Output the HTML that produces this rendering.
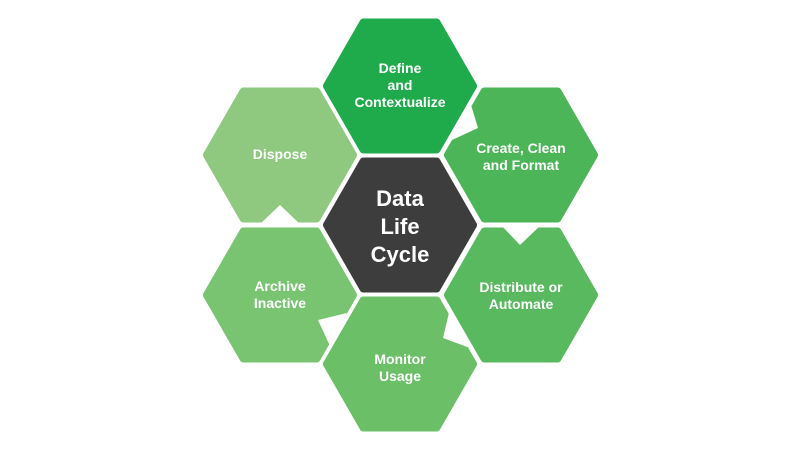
<!DOCTYPE html>
<html><head><style>
body{margin:0;background:#fff;}
svg{display:block}
text{font-family:"Liberation Sans",sans-serif;font-weight:bold;fill:#fff;text-anchor:middle}
</style></head><body>
<svg width="800" height="450" viewBox="0 0 800 450">
<defs>
<polygon id="h" points="-73,0 -36.5,-63.5 36.5,-63.5 73,0 36.5,63.5 -36.5,63.5" stroke-width="8" stroke-linejoin="round"/>
</defs>
<use href="#h" x="280" y="155" fill="#8ec97f" stroke="#8ec97f"/>
<polygon points="258,226 280,205 302,226" fill="#fff"/>
<use href="#h" x="280" y="295" fill="#79c471" stroke="#79c471"/>
<polygon points="318,320 347,313 330,346" fill="#fff"/>
<use href="#h" x="400" y="364" fill="#6bbf67" stroke="#6bbf67"/>
<polygon points="452,300 443,338 470,348" fill="#fff"/>
<use href="#h" x="521" y="295" fill="#58b95f" stroke="#58b95f"/>
<polygon points="500,224 520,245 542,224" fill="#fff"/>
<use href="#h" x="521" y="155" fill="#4bb558" stroke="#4bb558"/>
<polygon points="468,95 478,128 452,140" fill="#fff"/>
<use href="#h" x="400" y="86" fill="#1fab4b" stroke="#1fab4b"/>
<use href="#h" x="400" y="225" fill="#3d3d3d" stroke="#3d3d3d"/>
<g font-size="14">
<text x="400" y="73">Define</text>
<text x="400" y="90">and</text>
<text x="400" y="107">Contextualize</text>
<text x="521" y="153">Create, Clean</text>
<text x="521" y="170">and Format</text>
<text x="521" y="292">Distribute or</text>
<text x="521" y="309">Automate</text>
<text x="400" y="364">Monitor</text>
<text x="400" y="381">Usage</text>
<text x="280" y="291">Archive</text>
<text x="280" y="308">Inactive</text>
<text x="280" y="159">Dispose</text>
</g>
<g font-size="22">
<text x="400" y="206">Data</text>
<text x="400" y="234">Life</text>
<text x="400" y="262">Cycle</text>
</g>
</svg>
</body></html>
